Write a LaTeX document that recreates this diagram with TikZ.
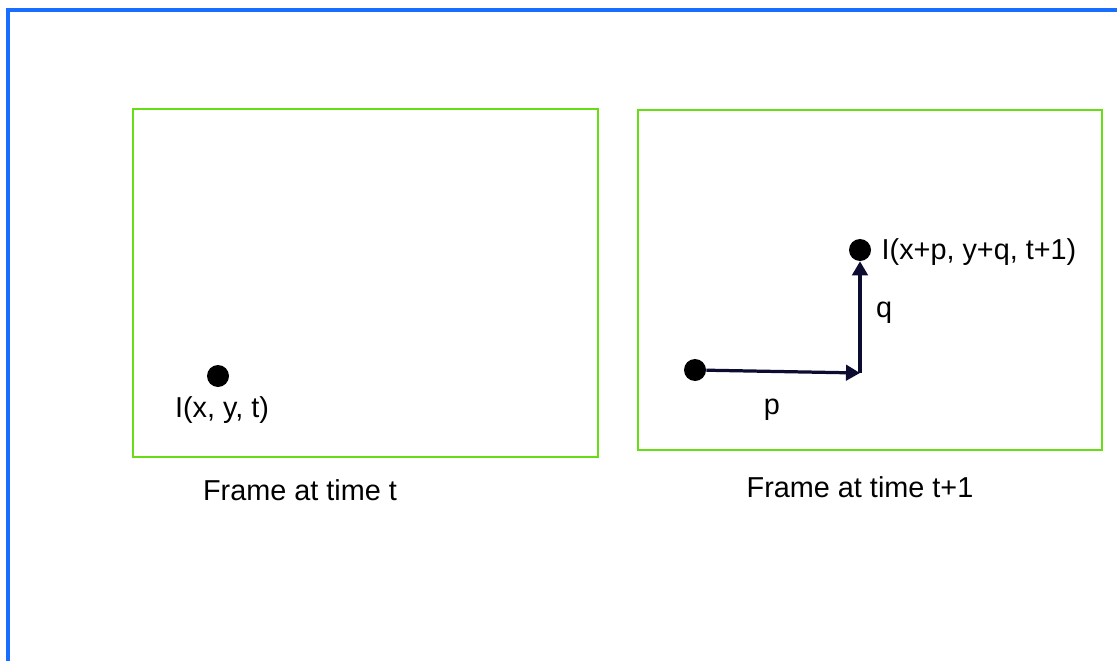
\documentclass[tikz,border=0pt]{standalone}
\usepackage{fontspec}
\setmainfont{Liberation Sans}
\usetikzlibrary{arrows.meta}
\definecolor{borderblue}{RGB}{25,110,255}
\definecolor{framegreen}{RGB}{102,221,20}
\definecolor{vecnavy}{RGB}{12,12,48}

\tikzset{
  frame/.style={draw=framegreen, line width=1.8pt},
  dot/.style={circle, fill=black, inner sep=0pt, minimum size=0.55cm},
  lbl/.style={font=\fontsize{20.5}{24}\selectfont, inner sep=1pt},
  vec/.style={draw=vecnavy, line width=2.3pt, -{Triangle[length=10pt,width=11pt]}}
}

\begin{document}
\begin{tikzpicture}
      % \draw[help lines, gray!50, very thin] (0,0) grid (28,17);
      \useasboundingbox (0,0) rectangle (27.925,16.5);
      \draw[borderblue, line width=2.9pt] (0.2,-0.2) -- (0.2,16.25) -- (28.2,16.25);

      % frame at time t
      \draw[frame] (3.325,5.075) rectangle (14.95,13.775);
      \node[dot] (pt) at (5.45,7.1) {};
      \node[lbl] (ptlbl) at (5.55,6.25) {I(x, y, t)};
      \node[lbl] (capt) at (7.5,4.25) {Frame at time t};

      % frame at time t+1
      \draw[frame] (15.95,5.25) rectangle (27.55,13.75);
      \node[dot] (src) at (17.375,7.25) {};
      \coordinate (corner) at (21.5,7.175);
      \node[dot] (dst) at (21.5,10.25) {};
      \node[lbl, anchor=west] (dstlbl) at (22.0,10.2) {I(x+p, y+q, t+1)};
      \draw[vec] (src) -- (corner);
      \draw[vec] (corner) -- (dst);
      \node[lbl] (plbl) at (19.3,6.25) {p};
      \node[lbl] (qlbl) at (22.1,8.675) {q};
      \node[lbl] (captnext) at (21.5,4.325) {Frame at time t+1};
\end{tikzpicture}
\end{document}
